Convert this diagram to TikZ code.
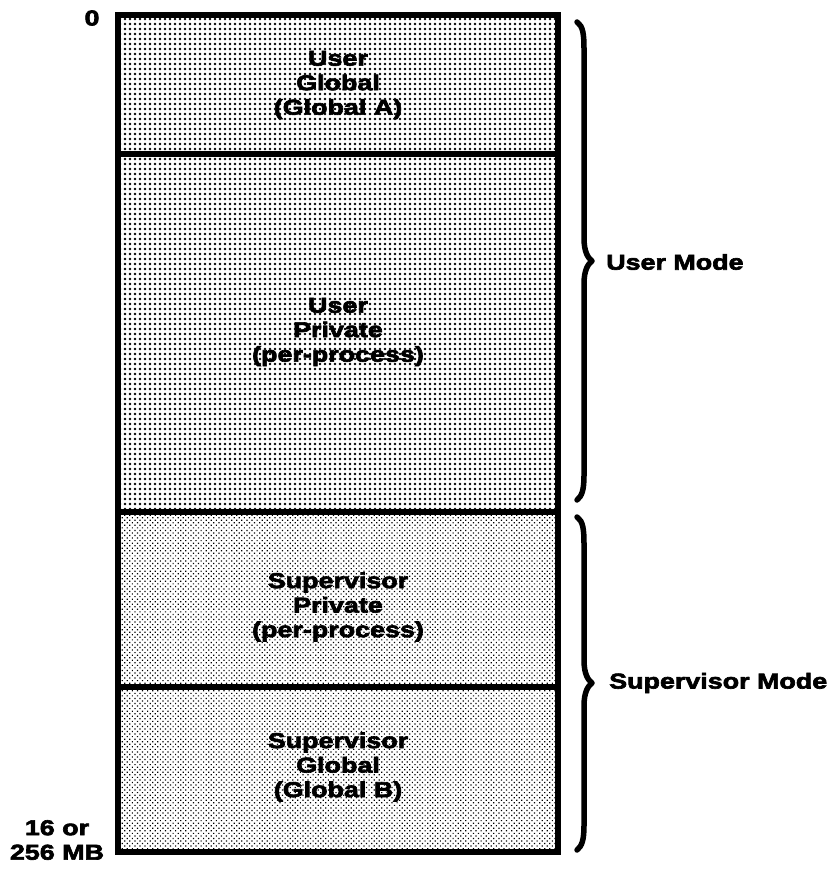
\documentclass[tikz,border=0pt]{standalone}
\usepackage{fontspec}
\usetikzlibrary{patterns.meta}
\newfontfamily\lab{Liberation Sans Bold}[FakeStretch=1.25,FakeBold=3]

\tikzset{
  labeltext/.style={font=\lab\fontsize{21.5}{24.5}\selectfont, align=center, inner sep=0pt},
  userfill/.style={pattern={Dots[distance=5pt, radius=1.3pt]}},
  supfill/.style={pattern={Dots[distance=3.6pt, radius=0.85pt, angle=45]}},
  frame/.style={line width=5.5pt},
  brace/.style={line width=5.5pt, line cap=round, line join=round}
}

\begin{document}
\begin{tikzpicture}[x=1pt, y=-1pt]
  \useasboundingbox (0,0) rectangle (832,869);

  % corners of the memory map and the section boundaries
  \coordinate (tl) at (118,15);
  \coordinate (br) at (558,852);
  \coordinate (d1l) at (118,154);  \coordinate (d1r) at (558,154);
  \coordinate (d2l) at (118,512);  \coordinate (d2r) at (558,512);
  \coordinate (d3l) at (118,687);  \coordinate (d3r) at (558,687);

  % shaded sections
  \fill[userfill] (tl) rectangle (d2r);
  \fill[supfill] (d2l) rectangle (br);

  % outline and dividers
  \draw[frame] (tl) rectangle (br);
  \draw[frame] (d1l) -- (d1r);
  \draw[frame] (d2l) -- (d2r);
  \draw[frame] (d3l) -- (d3r);

  % section labels
  \node[labeltext] (ug) at (338,85) {User\\Global\\(Global A)};
  \node[labeltext] (up) at (338,332) {User\\Private\\(per-process)};
  \node[labeltext] (sp) at (338,607) {Supervisor\\Private\\(per-process)};
  \node[labeltext] (sg) at (338,767) {Supervisor\\Global\\(Global B)};

  % address labels
  \node[labeltext] (a0) at (92,18) {0};
  \node[labeltext] (aend) at (57,840) {16 or\\256 MB};

  % mode braces
  \draw[brace] (577,22) .. controls (583,26) and (584,34) .. (584,50)
     -- (584,238) .. controls (584,252) and (588,258) .. (592,261)
     .. controls (588,264) and (584,270) .. (584,284)
     -- (584,475) .. controls (584,490) and (582,496) .. (577,500);
  \draw[brace] (577,517) .. controls (583,521) and (584,529) .. (584,545)
     -- (584,660) .. controls (584,674) and (588,680) .. (592,683)
     .. controls (588,686) and (584,692) .. (584,706)
     -- (584,825) .. controls (584,840) and (582,846) .. (577,850);

  \node[labeltext, anchor=west] (um) at (606,262) {User Mode};
  \node[labeltext, anchor=west] (sm) at (609,683) {Supervisor Mode};
\end{tikzpicture}
\end{document}
